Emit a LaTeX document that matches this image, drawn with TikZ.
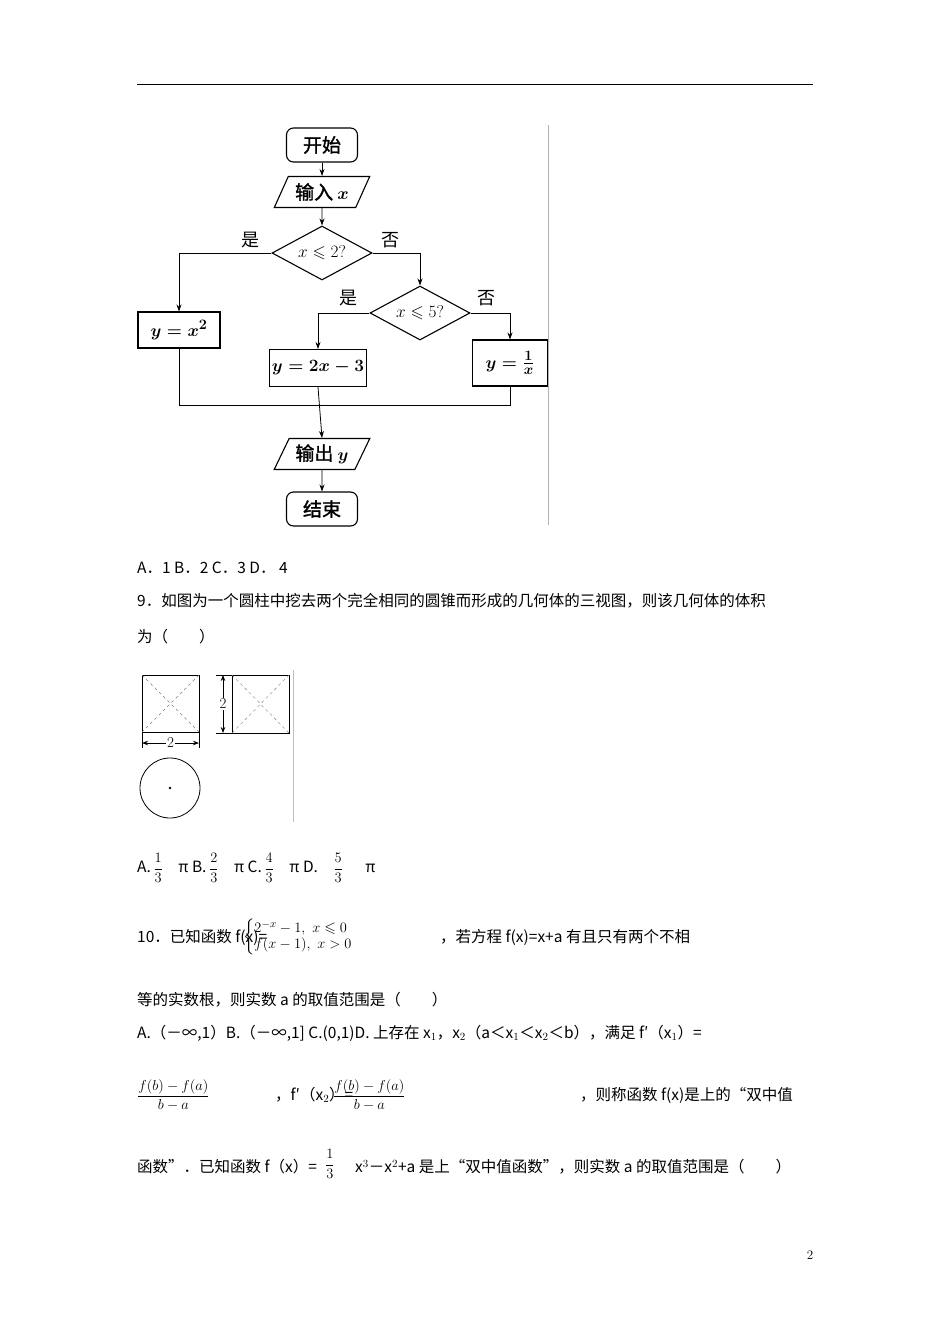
\documentclass[tikz,border=0pt]{standalone}
\usepackage{amsmath,amssymb}
\usepackage{fontspec}
\newfontfamily\cjk{Noto Sans CJK SC}
\newfontfamily\cjkb[FakeBold=1.5]{Noto Sans CJK SC}
\usetikzlibrary{shapes.geometric,arrows.meta}
\tikzset{
 fc/.style={draw,line width=1.1pt,font=\fontsize{19}{20}\selectfont\cjkb,inner sep=2pt},
 term/.style={fc,rounded corners=7pt,minimum width=71pt,minimum height=34pt},
 io/.style={fc,trapezium,trapezium left angle=61,trapezium right angle=119,trapezium stretches=true,minimum width=96pt,minimum height=31pt},
 dec/.style={fc,diamond,minimum width=100pt,minimum height=54pt,inner sep=0pt,aspect=1.85,font=\fontsize{17}{18}\selectfont},
 proc/.style={fc,rectangle},
 lab/.style={font=\fontsize{18}{18}\selectfont\cjk},
 arr/.style={line width=0.8pt,-{Stealth[length=7pt,width=5pt]}},
 ln/.style={line width=0.8pt},
 txt/.style={anchor=west,font=\fontsize{15.5}{16}\selectfont\cjk,inner sep=0pt},
 mth/.style={anchor=west,inner sep=0pt,font=\fontsize{15}{16}\selectfont},
}
\begin{document}
\begin{tikzpicture}[x=1pt,y=-1pt]
\fill[white] (0,0) rectangle (950,1344);
\useasboundingbox (0,0) rectangle (950,1344);
\draw[line width=0.8pt] (137,84) -- (813,84);
\draw[gray!60,line width=0.8pt] (548,125) -- (548,525);
\node[term] (s) at (322,145) {开始};
\node[io] (in) at (322,192) {输入 $\boldsymbol{x}$};
\node[dec] (d1) at (322,253) {$x\leqslant 2$?};
\node[dec] (d2) at (420,313) {$x\leqslant 5$?};
\node[proc,minimum width=82pt,minimum height=36pt] (b1) at (179,330) {$\boldsymbol{y=x^{2}}$};
\node[proc,minimum width=96pt,minimum height=37pt] (b2) at (318,368) {$\boldsymbol{y=2x-3}$};
\node[proc,minimum width=75pt,minimum height=46pt] (b3) at (510,363) {$\boldsymbol{y=\frac{1}{x}}$};
\node[io] (out) at (322,454) {输出 $\boldsymbol{y}$};
\node[term] (e) at (322,509) {结束};
\node[lab] (l1) at (250,240) {是};
\node[lab] (l2) at (390,240) {否};
\node[lab] (l3) at (348,298) {是};
\node[lab] (l4) at (486,298) {否};
\coordinate (m) at (318,405);
\draw[arr] (s) -- (in);
\draw[arr] (in) -- (d1);
\draw[arr] (d1.west) -| (b1.north);
\draw[arr] (d1.east) -| (d2.north);
\draw[arr] (d2.west) -| (b2.north);
\draw[arr] (d2.east) -| (b3.north);
\draw[ln] (b1.south) |- (m);
\draw[ln] (b3.south) |- (m);
\draw[arr] (b2.south) -- (out.north);
\draw[arr] (out) -- (e);
\node[txt] (t1) at (137,568) {A．1 B．2 C．3 D． 4};
\node[txt] (t2) at (137,601) {9．如图为一个圆柱中挖去两个完全相同的圆锥而形成的几何体的三视图，则该几何体的体积};
\node[txt] (t3) at (137,637) {为（　　）};
\draw[line width=0.9pt] (142,675) rectangle (199,732);
\draw[dashed,gray] (142,675) -- (199,732) (199,675) -- (142,732);
\draw[line width=0.8pt] (142,732) -- (142,748) (199,732) -- (199,748);
\draw[line width=0.8pt,{Stealth[length=6pt]}-{Stealth[length=6pt]}] (142,743) -- (199,743);
\node[fill=white,inner sep=1pt,font=\fontsize{15}{15}\selectfont] (d2l) at (170.5,743) {2};
\draw[line width=0.9pt] (232,675) rectangle (289,733);
\draw[dashed,gray] (232,675) -- (289,733) (289,675) -- (232,733);
\draw[line width=0.8pt] (216,675) -- (232,675) (216,733) -- (232,733);
\draw[line width=0.8pt,{Stealth[length=6pt]}-{Stealth[length=6pt]}] (223,675) -- (223,733);
\node[fill=white,inner sep=1pt,font=\fontsize{15}{15}\selectfont] (d1l) at (223,704) {2};
\draw[line width=0.8pt] (170,788) circle (30);
\fill (170,788) circle (1.3);
\draw[gray!50,line width=0.8pt] (293,670) -- (293,822);
\node[txt] (a9) at (137,868) {A.\,$\dfrac{1}{3}$\quad π B.\,$\dfrac{2}{3}$\quad π C.\,$\dfrac{4}{3}$\quad π D.\quad $\dfrac{5}{3}$\quad\ \ π};
\node[txt] (q10a) at (137,937) {10．已知函数 f(x)=};
\node[mth] (pw) at (243,937) {$\left\{\begin{array}{@{}l@{}}2^{-x}-1,\ x\leqslant 0\\ f(x-1),\ x>0\end{array}\right.$};
\node[txt] (q10b) at (440,937) {，若方程 f(x)=x+a 有且只有两个不相};
\node[txt] (q10c) at (137,1000) {等的实数根，则实数 a 的取值范围是（　　）};
\node[txt] (q10d) at (137,1033) {A.（－∞,1）B.（－∞,1] C.(0,1)D. 上存在 x$_1$，x$_2$（a＜x$_1$＜x$_2$＜b），满足 f′（x$_1$）=};
\node[mth] (fr1) at (137,1095) {$\dfrac{f(b)-f(a)}{b-a}$};
\node[txt] (q10e) at (275,1095) {，f′（x$_2$）=};
\node[mth] (fr2) at (333,1095) {$\dfrac{f(b)-f(a)}{b-a}$};
\node[txt] (q10f) at (580,1095) {，则称函数 f(x)是上的“双中值};
\node[txt] (q10g) at (137,1167) {函数”．已知函数 f（x）=};
\node[mth] (fr3) at (325,1164) {$\dfrac{1}{3}$};
\node[txt] (q10h) at (355,1167) {x$^3$－x$^2$+a 是上“双中值函数”，则实数 a 的取值范围是（　　）};
\node[font=\fontsize{13}{13}\selectfont] (pg) at (810,1255) {2};
\end{tikzpicture}
\end{document}
